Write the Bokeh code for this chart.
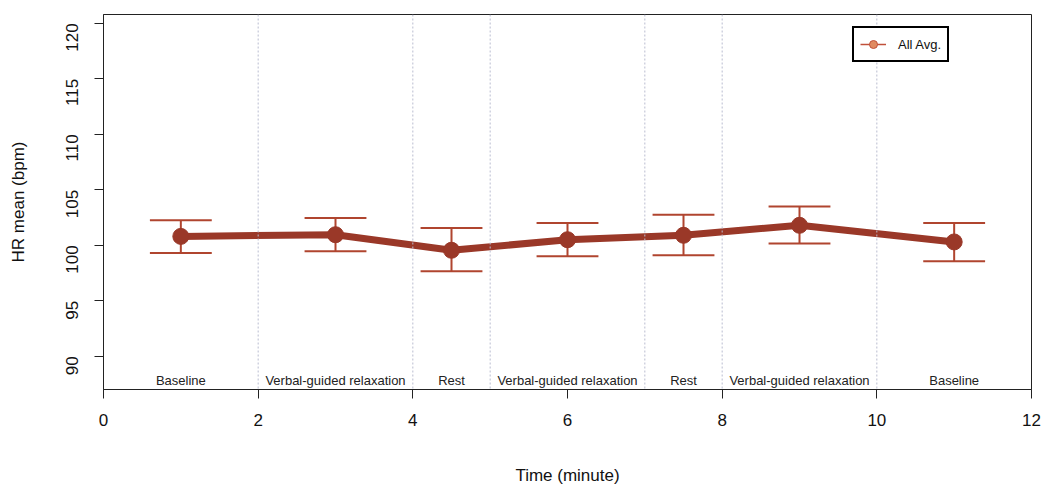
import math
from bokeh.plotting import figure
from bokeh.models import Range1d, FixedTicker, Legend, LegendItem, Span
from bokeh.core.properties import value
from bokeh.embed import file_html
from bokeh.resources import INLINE

# data
time_min = [1, 3, 4.5, 6, 7.5, 9, 11]
hr_mean = [100.8, 100.95, 99.55, 100.5, 100.9, 101.8, 100.3]
hr_upper = [102.25, 102.45, 101.55, 102.0, 102.75, 103.5, 102.0]
hr_lower = [99.3, 99.45, 97.65, 99.0, 99.1, 100.15, 98.55]
phase_bounds = [2, 4, 5, 7, 8, 10]
phase_labels = ["Baseline", "Verbal-guided relaxation", "Rest", "Verbal-guided relaxation",
                "Rest", "Verbal-guided relaxation", "Baseline"]
phase_centers = [1, 3, 4.5, 6, 7.5, 9, 11]
x_ticks = [0, 2, 4, 6, 8, 10, 12]
y_ticks = [90, 95, 100, 105, 110, 115, 120]

FONT = "Liberation Sans"
LINE_C = "#9A3828"
ERR_C = "#B0452F"

YMIN, YMAX = 87.0, 120.8

p = figure(width=1043, height=489, output_backend="svg", toolbar_location=None,
           x_range=Range1d(0, 12), y_range=Range1d(YMIN, YMAX),
           min_border_left=103, min_border_right=12, min_border_top=14, min_border_bottom=100)
p.grid.visible = False
p.outline_line_color = "#222222"
p.outline_line_width = 1
p.background_fill_color = "white"
p.border_fill_color = "white"

# phase separators
for b in phase_bounds:
    p.add_layout(Span(location=b, dimension="height", line_color="#B9BDD0",
                      line_width=1, line_dash="2 2"))

# error bars
cap = 0.4
p.segment(x0=time_min, x1=time_min, y0=hr_lower, y1=hr_upper, line_color=ERR_C, line_width=2)
p.segment(x0=[t - cap for t in time_min], x1=[t + cap for t in time_min],
          y0=hr_upper, y1=hr_upper, line_color=ERR_C, line_width=2)
p.segment(x0=[t - cap for t in time_min], x1=[t + cap for t in time_min],
          y0=hr_lower, y1=hr_lower, line_color=ERR_C, line_width=2)

# main line
p.line(time_min, hr_mean, line_color=LINE_C, line_width=7)
p.scatter(time_min, hr_mean, size=16, fill_color=LINE_C, line_color=LINE_C)

# phase labels
p.text(x=phase_centers, y=[YMIN] * len(phase_centers), text=phase_labels,
       text_font=value(FONT), text_font_size="13px", text_color="#222222",
       text_align="center", text_baseline="bottom", y_offset=-2)

# legend with placeholder (non-drawn) renderers
nan = float("nan")
lg_line = p.line([nan], [nan], line_color="#C0503A", line_width=1.5)
lg_pt = p.scatter([nan], [nan], size=8, fill_color="#E08A60", line_color="#C0503A", line_width=1)
legend = Legend(items=[LegendItem(label="All Avg.", renderers=[lg_line, lg_pt], index=0)],
                location=(749, 327), border_line_color="#000000", border_line_width=2,
                border_line_alpha=1.0,
                label_text_font=FONT, label_text_font_size="13px", label_text_color="#111111",
                glyph_width=26, padding=6, margin=0, label_standoff=12,
                background_fill_alpha=1.0)
p.add_layout(legend)

# axes
p.xaxis.ticker = FixedTicker(ticks=x_ticks)
p.yaxis.ticker = FixedTicker(ticks=y_ticks)
p.xaxis.axis_label = "Time (minute)"
p.yaxis.axis_label = "HR mean (bpm)"
for ax in (p.xaxis[0], p.yaxis[0]):
    ax.axis_label_text_font = FONT
    ax.axis_label_text_font_style = "normal"
    ax.axis_label_text_font_size = "17px"
    ax.axis_label_text_color = "#111111"
    ax.major_label_text_font = FONT
    ax.major_label_text_font_size = "17px"
    ax.major_label_text_color = "#111111"
    ax.major_tick_out = 9
    ax.major_tick_in = 0
    ax.minor_tick_out = 0
    ax.minor_tick_in = 0
    ax.axis_line_color = "#222222"
    ax.major_tick_line_color = "#222222"
p.xaxis.major_label_standoff = 15
p.xaxis.axis_label_standoff = 37
p.yaxis.major_label_orientation = math.pi / 2
p.yaxis.major_label_standoff = 22
p.yaxis.axis_label_standoff = 30

open("out.html", "w").write(file_html(p, INLINE))
